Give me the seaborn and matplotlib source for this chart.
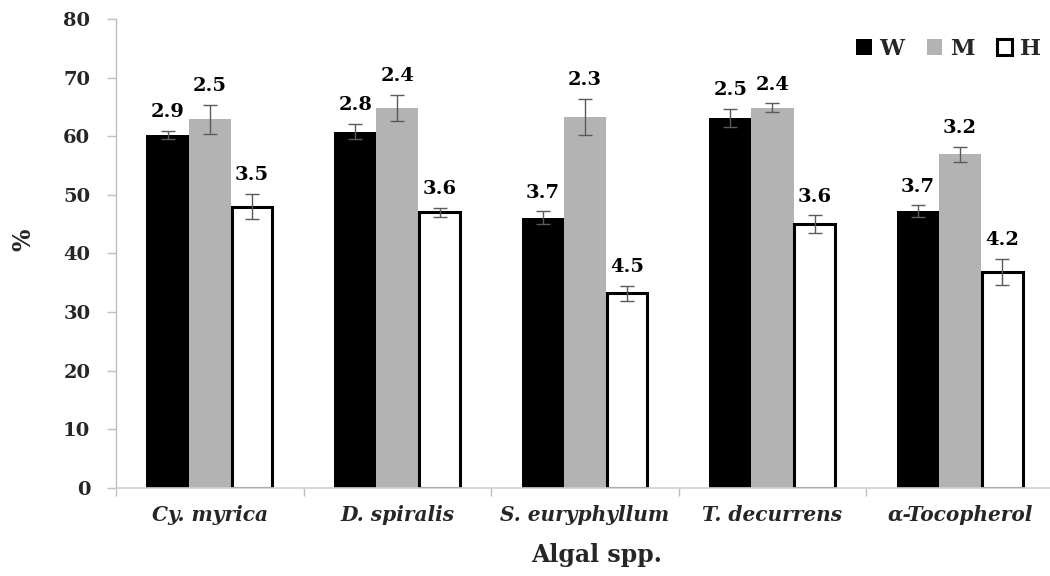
import matplotlib
matplotlib.use("Agg")
import matplotlib.pyplot as plt
import seaborn as sns
import pandas as pd
import numpy as np
from matplotlib.patches import Patch
from matplotlib.ticker import FixedLocator

categories = ["Cy. myrica", "D. spiralis", "S. euryphyllum", "T. decurrens", "α-Tocopherol"]
treatments = ["W", "M", "H"]
values_W = [60.2, 60.8, 46.1, 63.1, 47.2]
values_M = [62.9, 64.8, 63.3, 64.9, 56.9]
values_H = [48.0, 47.0, 33.2, 45.0, 36.9]
err_W = [0.7, 1.3, 1.1, 1.6, 1.0]
err_M = [2.5, 2.2, 3.1, 0.7, 1.3]
err_H = [2.2, 0.8, 1.3, 1.5, 2.2]
labels_W = ["2.9", "2.8", "3.7", "2.5", "3.7"]
labels_M = ["2.5", "2.4", "2.3", "2.4", "3.2"]
labels_H = ["3.5", "3.6", "4.5", "3.6", "4.2"]
y_ticks = [0, 10, 20, 30, 40, 50, 60, 70, 80]

sns.set_theme(style="white")
FONT = ["DejaVu Serif", "Liberation Serif"]
plt.rcParams["font.family"] = FONT
plt.rcParams["font.weight"] = "bold"

rows = []
for t, vals, errs, labs in [("W", values_W, err_W, labels_W),
                            ("M", values_M, err_M, labels_M),
                            ("H", values_H, err_H, labels_H)]:
    for c, v, e, l in zip(categories, vals, errs, labs):
        rows.append({"cat": c, "trt": t, "val": v, "err": e, "lab": l})
df = pd.DataFrame(rows)

colors = {"W": "#000000", "M": "#b3b3b3", "H": "#ffffff"}

fig = plt.figure(figsize=(10.5, 5.76), dpi=100)
ax = fig.add_axes([116 / 1050, 88 / 576, 1 - 116 / 1050, (488 - 19) / 576])

sns.barplot(data=df, x="cat", y="val", hue="trt", order=categories,
            hue_order=treatments, palette=colors, width=0.675,
            errorbar=None, saturation=1, ax=ax, linewidth=0)

for ti, t in enumerate(treatments):
    cont = ax.containers[ti]
    sub = df[df["trt"] == t].set_index("cat").loc[categories]
    for patch, (_, r) in zip(cont.patches, sub.iterrows()):
        if t == "H":
            patch.set_edgecolor("black")
            patch.set_linewidth(2.2)
            w = patch.get_width()
            patch.set_x(patch.get_x() + 0.004)
            patch.set_width(w - 0.008)
        xc = patch.get_x() + patch.get_width() / 2
        top = patch.get_height()
        ax.errorbar(xc, top, yerr=r["err"], fmt="none", ecolor="#5a5a5a",
                    elinewidth=1.0, capsize=5, capthick=1.0, zorder=5)
        ax.annotate(r["lab"], (xc, top + r["err"]), xytext=(0, 7),
                    textcoords="offset points", ha="center", va="bottom",
                    fontsize=14, fontweight="bold", color="black")

ax.set_xlim(-0.5, 4.48)
ax.set_ylim(0, 80)
ax.yaxis.set_major_locator(FixedLocator(y_ticks))
ax.set_yticklabels([str(v) for v in y_ticks], fontsize=14, fontweight="bold")
ax.set_xticks(range(len(categories)))
ax.set_xticklabels(categories, fontsize=14.5, fontweight="bold", style="italic")
ax.xaxis.set_minor_locator(FixedLocator([-0.5, 0.5, 1.5, 2.5, 3.5]))
ax.tick_params(axis="x", which="major", length=0, pad=12)
ax.tick_params(axis="x", which="minor", length=6, width=1, color="#bfbfbf",
               direction="out", bottom=True)
ax.tick_params(axis="y", which="major", length=6.5, width=1, color="#bfbfbf",
               direction="out", left=True, pad=12)

for s in ["top", "right"]:
    ax.spines[s].set_visible(False)
ax.spines["left"].set_color("#bfbfbf")
ax.spines["bottom"].set_color("#d0d0d0")
ax.spines["left"].set_linewidth(1.0)
ax.spines["bottom"].set_linewidth(1.2)

ax.set_xlabel("Algal spp.", fontsize=17, fontweight="bold")
ax.xaxis.label.set_va("center")
ax.xaxis.set_label_coords(0.515, -0.143)
ax.set_ylabel("%", fontsize=17, fontweight="bold")
ax.yaxis.label.set_va("center")
ax.yaxis.set_label_coords(-0.099, 0.53)

leg = ax.get_legend()
if leg is not None:
    leg.remove()
handles = [Patch(facecolor="#000000", edgecolor="#000000", linewidth=0),
           Patch(facecolor="#b3b3b3", edgecolor="#b3b3b3", linewidth=0),
           Patch(facecolor="#ffffff", edgecolor="#000000", linewidth=2.2)]
ax.legend(handles, treatments, ncol=3, frameon=False, loc="upper right",
          bbox_to_anchor=(1.012, 1.003), handlelength=0.7, handleheight=0.7,
          handletextpad=0.35, columnspacing=1.0,
          prop={"size": 16, "weight": "bold", "family": FONT})

fig.savefig("out.png", dpi=100)
